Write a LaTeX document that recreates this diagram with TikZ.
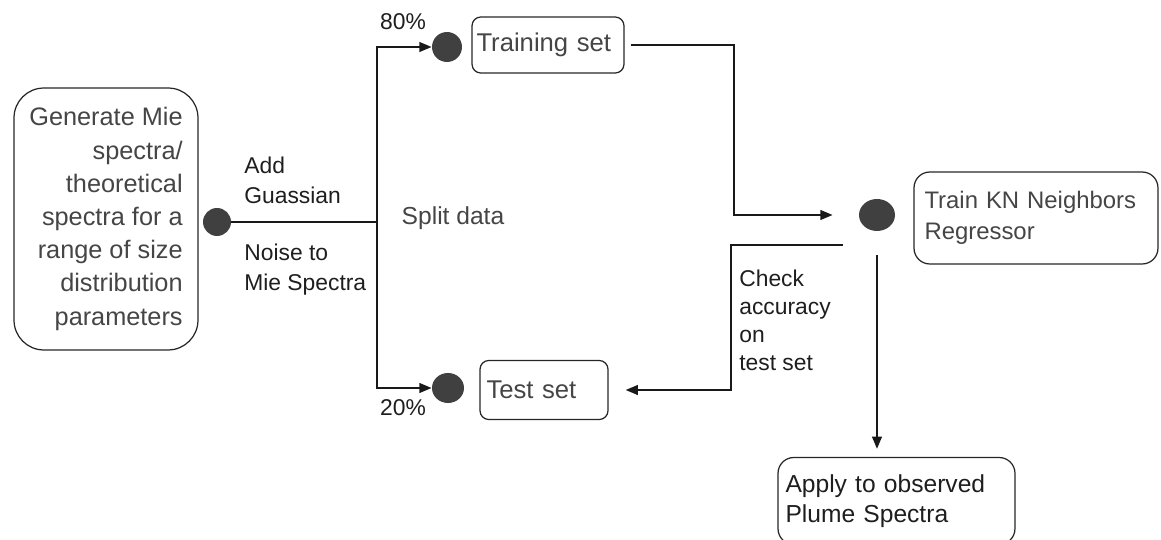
\documentclass[tikz,border=0pt]{standalone}
\usepackage{fontspec}
\setmainfont{Liberation Sans}
\usetikzlibrary{arrows.meta,shapes.geometric}

\definecolor{boxtext}{HTML}{454545}
\definecolor{dotfill}{HTML}{404040}
\definecolor{labeltext}{HTML}{1E1E1E}

\tikzset{
  stepbox/.style={draw=black!85, line width=0.7pt, text=boxtext, inner sep=0pt,
    font=\fontsize{14}{18.4}\selectfont},
  dot/.style={ellipse, fill=dotfill, draw=none, inner sep=0pt},
  conn/.style={line width=1.2pt, draw=black!90},
  tip/.style={-{Triangle[length=7pt,width=5.5pt]}},
  lbl/.style={inner sep=0pt, text=labeltext, font=\fontsize{13}{17}\selectfont}
}

\begin{document}
\begin{tikzpicture}[x=0.02cm,y=-0.02cm]
    % page size of the reference
    \clip (0,0) rectangle (1161,540);

    % Boxes
    \node[stepbox, rounded corners=17pt, minimum width=3.68cm, minimum height=5.24cm,
      align=right, font=\fontsize{14.4}{18.9}\selectfont] (generate) at (106,219)
      {Generate Mie\\spectra/\\theoretical\\spectra for a\\range of size\\distribution\\parameters};
    \node[stepbox, rounded corners=5pt, minimum width=3.04cm, minimum height=1.12cm,
      text width=2.86cm, align=left, font=\fontsize{14.6}{18}\selectfont] (trainset) at (548,45) {Training set};
    \node[stepbox, rounded corners=5pt, minimum width=2.56cm, minimum height=1.18cm,
      text width=2.3cm, align=left, font=\fontsize{14.6}{18}\selectfont] (testset) at (544,390) {Test set};
    \node[stepbox, rounded corners=9pt, minimum width=4.88cm, minimum height=1.84cm,
      text width=4.46cm, align=left, font=\fontsize{13.6}{18}\selectfont] (knreg) at (1036,218)
      {Train KN Neighbors\\Regressor};
    \node[stepbox, rounded corners=9pt, minimum width=4.74cm, minimum height=1.74cm,
      text width=4.44cm, align=left, text=labeltext, font=\fontsize{14}{17}\selectfont] (apply) at (896.5,501)
      {Apply to observed\\Plume Spectra};

    % Dots
    \node[dot, minimum width=0.56cm, minimum height=0.56cm] (gendot) at (217,222) {};
    \node[dot, minimum width=0.6cm, minimum height=0.6cm] (traindot) at (447,47) {};
    \node[dot, minimum width=0.64cm, minimum height=0.6cm] (testdot) at (448,388) {};
    \node[dot, minimum width=0.72cm, minimum height=0.64cm] (kndot) at (877,215) {};

    % Connectors
    \coordinate (split) at (377,222);
    \coordinate (bendtop) at (734,215);
    \coordinate (retstart) at (843,245);
    \coordinate (retbend) at (731,245);

    \draw[conn] (gendot) -- (split);
    \draw[conn,tip] (split) |- (traindot);
    \draw[conn,tip] (split) |- (testdot);
    \draw[conn,tip] ([xshift=0.12cm]trainset.east) -| (bendtop) -- ([xshift=-0.52cm]kndot.west);
    \draw[conn,tip,shorten >=0.34cm] (retstart) -- (retbend) |- (testset.east);
    \draw[conn,tip,shorten >=0.16cm] ([yshift=-0.48cm]kndot.south) -- (kndot |- apply.north);

    % Labels
    \node[lbl] (pcttop) at (403,22) {80\%};
    \node[lbl] (pctbot) at (403,408) {20\%};
    \node[lbl, anchor=west, align=left] (addnoise) at (244,180) {Add\\Guassian};
    \node[lbl, anchor=west, align=left] (noiseto) at (244,270) {Noise to\\Mie Spectra};
    \node[lbl, text=boxtext, font=\fontsize{14}{17}\selectfont] (splitlbl) at (453,218) {Split data};
    \node[lbl, anchor=west, align=left, font=\fontsize{13}{15.9}\selectfont] (checklbl) at (739,320)
      {Check\\accuracy\\on\\test set};

\end{tikzpicture}
\end{document}
